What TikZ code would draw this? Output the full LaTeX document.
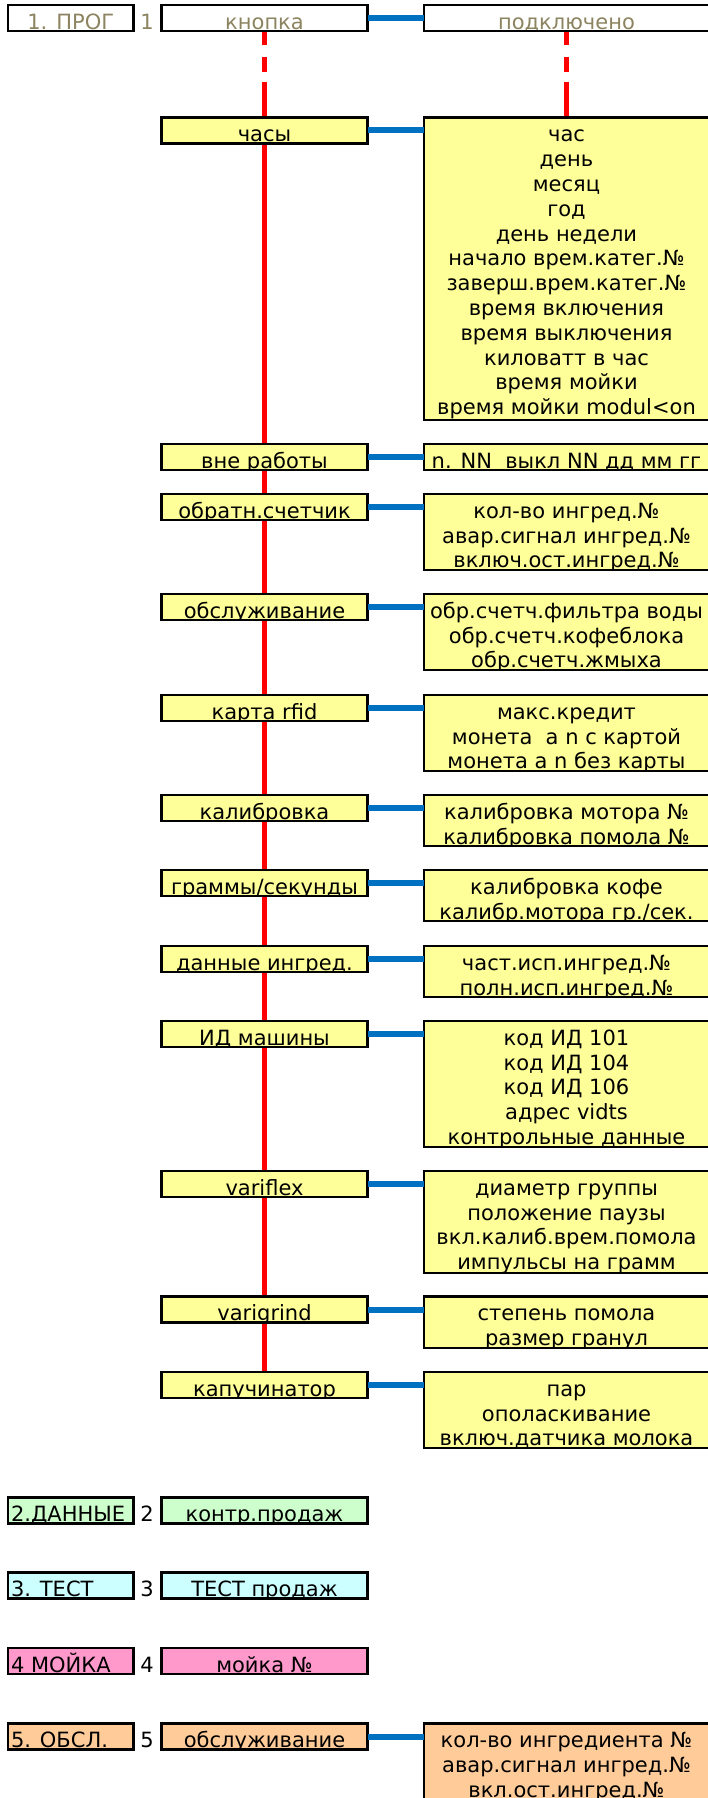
\documentclass[tikz,border=0pt]{standalone}
\usepackage{fontspec}
\setmainfont{DejaVu Sans}
\usetikzlibrary{backgrounds}
\definecolor{olv}{RGB}{140,132,96}
\definecolor{ylw}{RGB}{255,255,153}
\definecolor{grn}{RGB}{204,255,204}
\definecolor{cyn}{RGB}{204,255,255}
\definecolor{pnk}{RGB}{255,153,204}
\definecolor{org}{RGB}{255,204,153}
\definecolor{bl}{RGB}{0,112,192}
\def\tcol{black}
\tikzset{
  box/.style={draw=black, line width=2.2pt, rectangle, anchor=north west, inner sep=0pt, outer sep=0pt},
  cbox/.style={box, minimum width=125.5pt, minimum height=26pt},
  lbox/.style={box, minimum width=206pt, minimum height=26pt},
  rbox/.style={box, minimum width=285pt, minimum height=#1},
  tcol/.store in=\tcol,
  intext/.style={draw=none, fill=none, inner sep=0pt, outer sep=0pt, minimum width=0pt, minimum height=0pt, text=\tcol},
  ctext/.style={path picture={\foreach \myl [count=\i from 0] in {#1}
      \node[intext, anchor=base] at ([yshift={-24.3pt-\i*24.8pt}]path picture bounding box.north) {\myl};}},
  ltext/.style={path picture={\node[intext, anchor=base west] at ([xshift=3pt,yshift=-24.3pt]path picture bounding box.north west) {#1};}},
  num/.style={anchor=base, inner sep=0pt},
  redline/.style={draw=red, line width=5pt},
  reddash/.style={draw=red, line width=5pt, dash pattern=on 14pt off 12pt on 15pt off 10pt on 60pt},
  blueline/.style={draw=bl, line width=6pt},
}
\begin{document}
\begin{tikzpicture}[x=1pt, y=-1pt, font=\fontsize{21}{25}\selectfont]
\useasboundingbox (0,0) rectangle (707,1798);
\begin{scope}[on background layer]
  \fill[white] (0,0) rectangle (707,1798);
\end{scope}

% row 1
\node[cbox, fill=white, tcol=olv, ctext={1. ПРОГ}] (p1) at (8,5) {};
\node[num, text=olv] (n1) at (147,29.3) {1};
\node[lbox, fill=white, tcol=olv, ctext={кнопка}] (knopka) at (161.5,5) {};
\node[rbox=26pt, fill=white, tcol=olv, ctext={подключено}] (podkl) at (424,5) {};

\node[lbox, fill=ylw, ctext={часы}] (chasy) at (161.5,117.5) {};
\node[rbox=302.5pt, fill=ylw, ctext={час,день,месяц,год,день недели,начало врем.катег.№,заверш.врем.катег.№,время включения,время выключения,киловатт в час,время мойки,время мойки modul<on}] (chasyR) at (424,117.5) {};

\node[lbox, fill=ylw, ctext={вне работы}] (vne) at (161.5,444) {};
\node[rbox=26pt, fill=ylw, ctext={n. NN\ \ выкл NN дд мм гг}] (vneR) at (424,444) {};

\node[lbox, fill=ylw, ctext={обратн.счетчик}] (obr) at (161.5,494) {};
\node[rbox=76pt, fill=ylw, ctext={кол-во ингред.№,авар.сигнал ингред.№,включ.ост.ингред.№}] (obrR) at (424,494) {};

\node[lbox, fill=ylw, ctext={обслуживание}] (obsl) at (161.5,594) {};
\node[rbox=76pt, fill=ylw, ctext={обр.счетч.фильтра воды,обр.счетч.кофеблока,обр.счетч.жмыха}] (obslR) at (424,594) {};

\node[lbox, fill=ylw, ctext={карта rfid}] (karta) at (161.5,695) {};
\node[rbox=76pt, fill=ylw, ctext={макс.кредит,монета\ \ а n с картой,монета а n без карты}] (kartaR) at (424,695) {};

\node[lbox, fill=ylw, ctext={калибровка}] (kalib) at (161.5,795) {};
\node[rbox=51pt, fill=ylw, ctext={калибровка мотора №,калибровка помола №}] (kalibR) at (424,795) {};

\node[lbox, fill=ylw, ctext={граммы/секунды}] (gram) at (161.5,870) {};
\node[rbox=51pt, fill=ylw, ctext={калибровка кофе,калибр.мотора гр./сек.}] (gramR) at (424,870) {};

\node[lbox, fill=ylw, ctext={данные ингред.}] (dann) at (161.5,946) {};
\node[rbox=51pt, fill=ylw, ctext={част.исп.ингред.№,полн.исп.ингред.№}] (dannR) at (424,946) {};

\node[lbox, fill=ylw, ctext={ИД машины}] (idm) at (161.5,1021) {};
\node[rbox=126pt, fill=ylw, ctext={код ИД 101,код ИД 104,код ИД 106,адрес vidts,контрольные данные}] (idmR) at (424,1021) {};

\node[lbox, fill=ylw, ctext={variflex}] (varif) at (161.5,1171) {};
\node[rbox=102pt, fill=ylw, ctext={диаметр группы,положение паузы,вкл.калиб.врем.помола,импульсы на грамм}] (varifR) at (424,1171) {};

\node[lbox, fill=ylw, ctext={varigrind}] (varig) at (161.5,1296.5) {};
\node[rbox=51.5pt, fill=ylw, ctext={степень помола,размер гранул}] (varigR) at (424,1296.5) {};

\node[lbox, fill=ylw, ctext={капучинатор}] (kapu) at (161.5,1372) {};
\node[rbox=76pt, fill=ylw, ctext={пар,ополаскивание,включ.датчика молока}] (kapuR) at (424,1372) {};

% rows 2-5
\node[cbox, fill=grn, ltext={2.ДАННЫЕ}] (p2) at (8,1497.5) {};
\node[num] (n2) at (147,1521.8) {2};
\node[lbox, fill=grn, ctext={контр.продаж}] (kontr) at (161.5,1497.5) {};

\node[cbox, fill=cyn, ltext={3. ТЕСТ}] (p3) at (8,1572.5) {};
\node[num] (n3) at (147,1596.8) {3};
\node[lbox, fill=cyn, ctext={ТЕСТ продаж}] (test) at (161.5,1572.5) {};

\node[cbox, fill=pnk, ltext={4 МОЙКА}] (p4) at (8,1648) {};
\node[num] (n4) at (147,1672.3) {4};
\node[lbox, fill=pnk, ctext={мойка №}] (moyka) at (161.5,1648) {};

\node[cbox, fill=org, ltext={5. ОБСЛ.}] (p5) at (8,1723.5) {};
\node[num] (n5) at (147,1747.8) {5};
\node[lbox, fill=org, ctext={обслуживание}] (obsl5) at (161.5,1723.5) {};
\node[rbox=90pt, fill=org, ctext={кол-во ингредиента №,авар.сигнал ингред.№,вкл.ост.ингред.№}] (obsl5R) at (424,1723.5) {};

% connectors
\begin{scope}[on background layer]
  \draw[reddash] (knopka.south) -- (chasy.north);
  \draw[reddash] (podkl.south) -- (chasyR.north);
  \draw[redline] (chasy.center) -- (kapu.north);
\end{scope}
\foreach \a/\b in {knopka/podkl, chasy/chasyR, vne/vneR, obr/obrR, obsl/obslR, karta/kartaR, kalib/kalibR, gram/gramR, dann/dannR, idm/idmR, varif/varifR, varig/varigR, kapu/kapuR, obsl5/obsl5R}
  \draw[blueline] (\a.east) -- (\a.east -| \b.west);
\end{tikzpicture}
\end{document}
